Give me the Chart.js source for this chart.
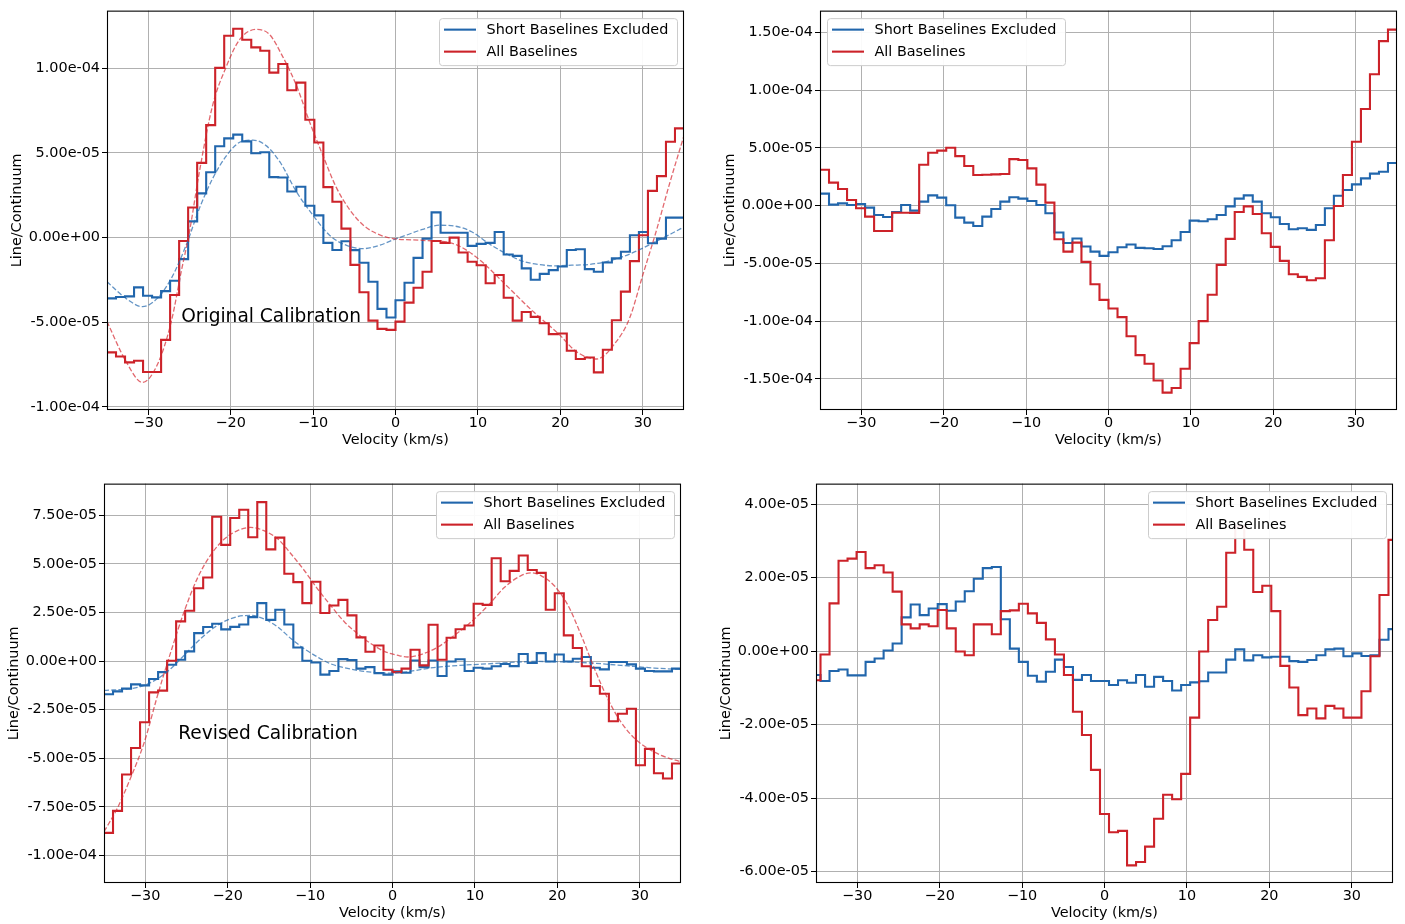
<!DOCTYPE html>
<html>
<head>
<meta charset="utf-8">
<script src="https://cdn.jsdelivr.net/npm/chart.js@4.4.1/dist/chart.umd.min.js"></script>
<style>
  html, body { margin: 0; padding: 0; background: #fff; }
  body { width: 1405px; height: 924px; position: relative; overflow: hidden; }
  canvas { position: absolute; }
</style>
</head>
<body>
<canvas id="p1" width="699" height="460" style="left:0px;top:0px"></canvas>
<canvas id="p2" width="699" height="460" style="left:713px;top:0px"></canvas>
<canvas id="p3" width="699" height="460" style="left:-3px;top:473px"></canvas>
<canvas id="p4" width="699" height="460" style="left:709px;top:473px"></canvas>
<script>
// channel width in km/s, values below are Line/Continuum in units of 1e-6
const CHAN = 1.09375

const velTicks = [-30, -20, -10, 0, 10, 20, 30]
const p1Ticks = [-100, -50, 0, 50, 100]
const p2Ticks = [-150, -100, -50, 0, 50, 100, 150]
const p3Ticks = [-100, -75, -50, -25, 0, 25, 50, 75]
const p4Ticks = [-60, -40, -20, 0, 20, 40]

// top left: original calibration
const p1Short = [-35.9, -35.1, -34.7, -29.4, -34.3, -35.3, -31.6, -25.5, -12.7, 9.6,
  26.1, 38.6, 53.9, 58.6, 60.8, 56.8, 49.8, 50.4, 35.7, 35.5,
  27.2, 30.0, 18.8, 13.1, -3.1, -7.3, -2.2, -7.4, -14.9, -26.1,
  -42.1, -47.2, -37.0, -26.7, -12.0, -0.6, 14.9, 2.9, 2.9, 2.9,
  -4.9, -3.7, -3.1, 3.3, -10.0, -10.8, -18.2, -24.9, -21.4, -19.2,
  -17.1, -7.3, -6.9, -18.6, -20.2, -14.7, -12.3, -8.4, 1.4, 3.3,
  -3.3, -0.6, 11.8, 11.8]
const p1All = [-67.8, -70.2, -73.7, -72.7, -79.4, -79.4, -60.4, -33.9, -2.0, 17.8,
  44.1, 66.4, 100.2, 119.2, 123.3, 116.8, 112.3, 110.3, 97.4, 102.5,
  87.0, 91.5, 69.6, 56.1, 29.8, 21.2, 5.3, -16.1, -32.3, -49.0,
  -53.9, -54.5, -49.6, -38.4, -29.6, -20.2, -2.0, -3.1, 0.0, -8.8,
  -14.3, -16.3, -27.0, -22.1, -35.5, -49.0, -43.9, -46.8, -50.6, -57.0,
  -56.6, -66.8, -71.7, -70.8, -79.6, -66.2, -48.8, -31.9, -13.9, 1.4,
  27.6, 36.3, 56.6, 64.5]
const fit1ShortX = [-35, -32.7, -30.7, -28.9, -27.2, -25.4, -23.8, -22.2, -20.5, -18.9, -17.3, -15.7, -14.0, -12.0, -10.0, -8.0, -6.0, -3.9, -1.9, 0.1, 1.3, 3.3, 5.3, 7.3, 9.3, 11.3, 13.4, 15.4, 17.4, 19.4, 21.4, 23.4, 25.5, 27.5, 29.5, 31.5, 33.5, 35]
const fit1ShortY = [-26.1, -35.9, -40.8, -35.9, -24.1, -4.5, 17.1, 34.7, 48.4, 56.3, 57.6, 54.3, 44.5, 26.9, 13.1, 1.4, -4.5, -6.5, -4.5, -0.6, 1.4, 4.9, 7.3, 6.7, 3.3, -3.5, -9.4, -13.9, -15.9, -16.7, -16.3, -15.9, -14.3, -11.4, -7.4, -2.5, 2.4, 6.3]
const fit1AllX = [-35, -32.7, -30.7, -28.9, -27.2, -26.0, -25.0, -23.8, -22.2, -20.5, -18.9, -16.9, -15.3, -13.7, -12.0, -10.4, -8.8, -7.2, -5.5, -3.9, -2.3, -0.3, 3.3, 7.3, 10.0, 13.4, 16.7, 19.9, 21.9, 24.4, 26.8, 28.4, 30.0, 31.6, 33.3, 35]
const fit1AllY = [-49.6, -73.1, -85.5, -75.1, -49.6, -20.2, 3.3, 38.6, 77.8, 101.3, 117.0, 122.9, 120.0, 107.0, 89.6, 68.0, 48.4, 29.8, 16.1, 7.3, 2.4, -0.6, -1.6, -4.1, -12.3, -28.0, -43.7, -57.4, -67.2, -71.7, -61.3, -47.6, -22.1, 3.3, 32.7, 60.2]

// top right
const p2Short = [10.4, 0.9, 2.0, 0.6, 1.4, -1.7, -8.1, -9.8, -5.5, 0.6,
  -4.3, 3.5, 8.9, 6.9, 0.3, -10.4, -14.7, -17.6, -9.5, -2.9,
  3.5, 7.2, 6.1, 4.0, 0.6, -6.6, -23.3, -32.3, -28.5, -35.4,
  -39.8, -43.5, -40.3, -36.0, -33.7, -36.6, -36.9, -37.5, -35.2, -30.0,
  -22.8, -13.0, -13.5, -11.8, -8.1, -0.6, 6.1, 8.9, 3.5, -6.6,
  -10.1, -15.9, -20.5, -19.6, -21.0, -16.7, -2.3, 8.6, 13.5, 18.4,
  23.6, 27.7, 29.4, 36.9]
const p2All = [31.1, 19.9, 14.4, 4.9, -2.3, -9.5, -21.9, -21.9, -6.1, -6.1,
  -6.3, 35.4, 45.8, 47.6, 50.1, 42.9, 34.3, 26.5, 26.8, 27.1,
  27.4, 40.3, 39.5, 32.3, 18.2, 2.6, -29.1, -39.8, -32.0, -48.7,
  -68.0, -81.6, -89.0, -96.5, -113.0, -129.4, -136.9, -151.3, -161.9, -157.9,
  -141.2, -119.0, -100.0, -77.2, -51.3, -28.8, -5.5, -0.6, -7.2, -23.9,
  -35.7, -47.8, -59.4, -61.7, -64.6, -62.8, -30.0, -0.3, 26.5, 55.3,
  83.6, 113.8, 142.4, 152.4]

// bottom left: revised calibration
const p3Short = [-17.1, -15.6, -14.2, -12.0, -12.5, -9.2, -5.7, -1.9, 0.7, 5.0,
  14.4, 17.5, 19.2, 16.3, 17.6, 18.8, 22.6, 29.8, 21.2, 26.4,
  18.8, 7.0, 0.2, -0.7, -7.0, -5.1, 1.0, 0.5, -3.9, -3.1,
  -6.2, -7.0, -5.3, -6.0, 0.3, -3.1, 0.3, -7.7, -0.2, 0.9,
  -5.1, -3.4, -3.9, -2.7, -1.5, -2.6, 3.6, -1.0, 4.1, -0.2,
  3.4, -0.2, 1.2, 2.1, -3.4, -4.3, -0.5, -0.5, -1.7, -3.9,
  -5.1, -5.3, -5.3, -3.9]
const p3All = [-88.4, -77.1, -58.4, -44.7, -31.5, -16.1, -15.2, 0.2, 20.4, 25.9,
  37.5, 43.0, 74.3, 59.8, 73.6, 77.9, 63.7, 81.8, 57.5, 63.5,
  44.9, 40.6, 29.8, 40.8, 24.7, 28.6, 31.5, 23.5, 12.2, 4.8,
  8.0, -4.5, -5.7, -3.9, 5.8, -2.2, 18.7, 0.7, 12.0, 16.4,
  18.3, 29.5, 28.9, 52.9, 41.1, 46.4, 54.3, 46.9, 45.4, 26.4,
  34.9, 13.2, 6.7, -2.7, -12.8, -16.8, -31.0, -27.1, -24.5, -53.6,
  -45.2, -57.7, -60.4, -52.7]
const fit3ShortX = [-35, -31.8, -30.1, -28.5, -26.9, -25.3, -23.7, -22.1, -20.4, -18.8, -17.2, -15.6, -13.9, -12.3, -10.7, -9.1, -7.5, -5.8, -4.2, -2.6, -0.2, 5.5, 11.6, 17.6, 23.7, 27.7, 31.8, 35]
const fit3ShortY = [-15.1, -14.2, -12.5, -9.1, -3.9, 2.9, 9.8, 15.8, 20.4, 22.9, 23.5, 21.7, 17.5, 11.5, 6.3, 2.1, -1.4, -3.4, -4.8, -5.7, -6.2, -3.1, -1.4, -0.2, -0.9, -2.2, -3.6, -4.3]
const fit3AllX = [-35, -33.4, -31.8, -30.1, -28.5, -26.9, -25.3, -23.7, -22.1, -20.4, -18.8, -17.2, -15.6, -13.9, -12.3, -10.7, -9.1, -7.5, -5.8, -4.2, -2.6, -1.0, 0.7, 1.8, 3.4, 5.5, 7.5, 9.5, 11.6, 13.6, 15.6, 16.8, 18.0, 19.6, 21.3, 22.9, 24.5, 26.1, 27.7, 29.4, 31.0, 32.6, 35]
const fit3AllY = [-87.8, -75.9, -60.4, -41.6, -17.6, 4.6, 25.2, 42.3, 54.3, 62.8, 67.1, 68.8, 67.1, 62.8, 55.1, 46.6, 37.2, 28.6, 20.0, 14.0, 8.9, 5.0, 2.9, 2.1, 3.3, 7.2, 13.2, 20.0, 28.6, 38.0, 44.0, 45.4, 44.0, 38.9, 28.6, 13.2, -3.9, -19.3, -31.3, -39.9, -45.0, -48.5, -51.9]

// bottom right (channels offset by half a channel)
const p4Short = [-6.5, -8.1, -5.4, -5.0, -6.6, -6.6, -2.9, -2.0, 0.2, 2.1,
  9.2, 12.7, 9.8, 11.6, 12.8, 11.0, 13.5, 16.3, 19.7, 22.6,
  22.9, 8.7, 0.7, -2.9, -6.7, -8.3, -5.6, -2.3, -4.3, -7.8,
  -6.5, -8.1, -8.1, -9.2, -7.9, -8.6, -6.5, -9.7, -7.0, -8.1,
  -10.7, -9.2, -8.5, -8.2, -5.8, -5.8, -2.3, 0.5, -2.5, -1.1,
  -1.7, -1.5, -1.5, -2.7, -2.9, -2.4, -1.1, 0.5, 0.7, -1.4,
  -0.6, -1.3, -1.1, 3.1, 6.0]
const p4All = [-7.9, -0.9, 13.0, 24.6, 25.2, 27.0, 22.6, 23.4, 21.4, 16.2,
  7.3, 6.2, 7.3, 6.8, 11.2, 6.2, -0.1, -1.1, 7.3, 7.3,
  4.6, 10.9, 11.1, 12.9, 10.3, 7.7, 3.2, -0.9, -6.5, -16.5,
  -22.8, -32.3, -44.3, -49.3, -48.9, -58.3, -57.4, -53.2, -45.6, -39.1,
  -40.3, -33.4, -18.1, -0.1, 8.5, 12.1, 26.8, 34.0, 27.6, 16.1,
  17.8, 10.9, -4.0, -9.9, -17.4, -15.6, -18.3, -14.9, -15.6, -18.1,
  -18.1, -10.9, -1.4, 15.3, 30.3]

const BLUE = '#2166ac'
const RED = '#cc2229'
const BLUE_FIT = 'rgba(33, 102, 172, 0.7)'
const RED_FIT = 'rgba(214, 40, 48, 0.7)'
const FONT = "'DejaVu Sans', sans-serif"

Chart.defaults.font.family = FONT
Chart.defaults.font.size = 14.4
Chart.defaults.color = '#000'

// 1.00e-04 style labels
function sci(v) {
  v = v * 1e-6
  if (Math.abs(v) < 1e-15) return '0.00e+00'
  let [m, e] = v.toExponential(2).split('e')
  const sign = e[0] === '-' ? '-' : '+'
  e = e.replace(/[+-]/, '').padStart(2, '0')
  return m + 'e' + sign + e
}

function histogram(values, start) {
  const pts = values.map((v, i) => ({ x: start + i * CHAN, y: v }))
  pts.push({ x: start + values.length * CHAN, y: values[values.length - 1] })
  return pts
}

function curve(xs, ys) {
  return xs.map((x, i) => ({ x: x, y: ys[i] }))
}

const overlay = {
  id: 'overlay',
  afterDraw(chart, args, opts) {
    const { ctx, chartArea: a, scales } = chart
    ctx.save()
    if (opts.note) {
      ctx.font = '18.6px ' + FONT
      ctx.fillStyle = '#000'
      ctx.textAlign = 'left'
      ctx.textBaseline = 'alphabetic'
      ctx.fillText(opts.note, scales.x.getPixelForValue(opts.noteAt[0]), scales.y.getPixelForValue(opts.noteAt[1]))
    }
    // legend box
    const w = 238, h = 47
    const bx = opts.legend === 'left' ? a.left + 7 : a.right - 7 - w
    const by = a.top + 7.5
    ctx.beginPath()
    ctx.roundRect(bx + 0.5, by + 0.5, w, h, 3)
    ctx.fillStyle = 'rgba(255, 255, 255, 0.93)'
    ctx.fill()
    ctx.strokeStyle = '#cccccc'
    ctx.lineWidth = 1
    ctx.stroke()
    const items = [['Short Baselines Excluded', BLUE], ['All Baselines', RED]]
    ctx.font = '14.4px ' + FONT
    ctx.textBaseline = 'middle'
    items.forEach(([label, color], i) => {
      const y = by + 11.5 + i * 22
      ctx.beginPath()
      ctx.moveTo(bx + 5, y)
      ctx.lineTo(bx + 37, y)
      ctx.strokeStyle = color
      ctx.lineWidth = 2.1
      ctx.stroke()
      ctx.fillStyle = '#000'
      ctx.fillText(label, bx + 47.5, y + 0.5)
    })
    // axes frame
    ctx.strokeStyle = '#000'
    ctx.lineWidth = 1.1
    ctx.strokeRect(a.left + 0.5, a.top + 0.5, a.width - 1, a.height - 1)
    ctx.restore()
  }
}

function makePanel(id, p) {
  const datasets = [
    { data: histogram(p.short, p.start), borderColor: BLUE, borderWidth: 2.1, stepped: 'before', order: 3 },
    { data: histogram(p.all, p.start), borderColor: RED, borderWidth: 2.1, stepped: 'before', order: 2 }
  ]
  if (p.fits) {
    datasets.push({ data: p.fits[0], borderColor: BLUE_FIT, borderWidth: 1.3, borderDash: [5, 2.2], cubicInterpolationMode: 'monotone', order: 1 })
    datasets.push({ data: p.fits[1], borderColor: RED_FIT, borderWidth: 1.3, borderDash: [5, 2.2], cubicInterpolationMode: 'monotone', order: 0 })
  }
  new Chart(document.getElementById(id), {
    type: 'line',
    data: { datasets: datasets },
    plugins: [overlay],
    options: {
      responsive: false,
      animation: false,
      devicePixelRatio: 1,
      layout: { padding: { top: 10, right: 15, left: 0, bottom: 0 } },
      elements: { point: { radius: 0 }, line: { fill: false } },
      plugins: {
        legend: { display: false },
        tooltip: { enabled: false },
        overlay: { legend: p.legend, note: p.note, noteAt: p.noteAt }
      },
      scales: {
        x: {
          type: 'linear',
          min: -35,
          max: 35,
          afterBuildTicks: (s) => { s.ticks = velTicks.map((v) => ({ value: v })) },
          afterFit: (s) => { s.height = 50 },
          grid: { color: '#b0b0b0', lineWidth: 1, tickColor: '#000', tickLength: 5 },
          border: { display: false },
          ticks: {
            padding: 0,
            maxRotation: 0,
            callback: (v) => (v < 0 ? '\u2212' + Math.abs(v) : String(v))
          },
          title: { display: true, text: 'Velocity (km/s)', padding: { top: 0, bottom: 11 } }
        },
        y: {
          type: 'linear',
          min: p.yMin,
          max: p.yMax,
          afterBuildTicks: (s) => { s.ticks = p.yTicks.map((v) => ({ value: v })) },
          afterFit: (s) => { s.width = 107 },
          grid: { color: '#b0b0b0', lineWidth: 1, tickColor: '#000', tickLength: 5 },
          border: { display: false },
          ticks: { padding: 2, callback: (v) => sci(v) },
          title: { display: true, text: 'Line/Continuum', padding: { top: 9, bottom: 0 } }
        }
      }
    }
  })
}

makePanel('p1', {
  start: -35, short: p1Short, all: p1All, yMin: -101.8, yMax: 134.0, yTicks: p1Ticks,
  fits: [curve(fit1ShortX, fit1ShortY), curve(fit1AllX, fit1AllY)],
  legend: 'right', note: 'Original Calibration', noteAt: [-26, -50]
})
makePanel('p2', {
  start: -35, short: p2Short, all: p2All, yMin: -176.9, yMax: 168.8, yTicks: p2Ticks,
  legend: 'left'
})
makePanel('p3', {
  start: -35, short: p3Short, all: p3All, yMin: -114.2, yMax: 91.3, yTicks: p3Ticks,
  fits: [curve(fit3ShortX, fit3ShortY), curve(fit3AllX, fit3AllY)],
  legend: 'right', note: 'Revised Calibration', noteAt: [-26, -40]
})
makePanel('p4', {
  start: -35 - CHAN / 2, short: p4Short, all: p4All, yMin: -63.1, yMax: 45.6, yTicks: p4Ticks,
  legend: 'right'
})
</script>
</body>
</html>
